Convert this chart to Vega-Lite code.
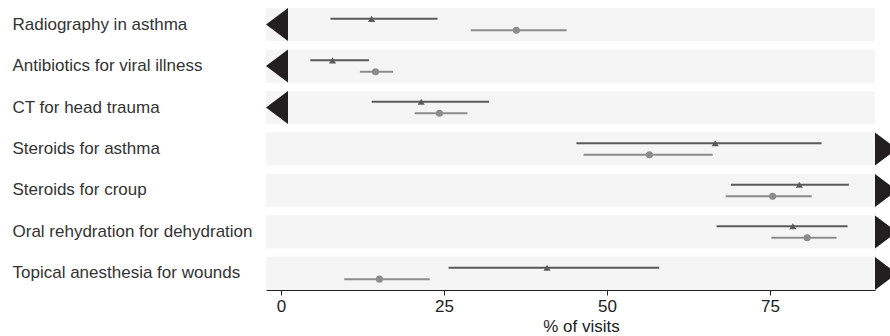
{
  "$schema": "https://vega.github.io/schema/vega-lite/v6.json",
  "width": 609,
  "height": 282,
  "padding": {"left": 12, "top": 8, "right": 0, "bottom": 0},
  "autosize": {"type": "pad"},
  "background": "white",
  "config": {
    "view": {"stroke": null},
    "font": "Liberation Sans"
  },
  "data": {
    "values": [
      {"item": "Radiography in asthma", "series": "A", "est": 13.9, "lo": 7.6, "hi": 24.0, "dir": "lower"},
      {"item": "Radiography in asthma", "series": "B", "est": 36.1, "lo": 29.1, "hi": 43.8, "dir": "lower"},
      {"item": "Antibiotics for viral illness", "series": "A", "est": 7.9, "lo": 4.5, "hi": 13.5, "dir": "lower"},
      {"item": "Antibiotics for viral illness", "series": "B", "est": 14.5, "lo": 12.1, "hi": 17.2, "dir": "lower"},
      {"item": "CT for head trauma", "series": "A", "est": 21.5, "lo": 13.9, "hi": 31.9, "dir": "lower"},
      {"item": "CT for head trauma", "series": "B", "est": 24.3, "lo": 20.5, "hi": 28.6, "dir": "lower"},
      {"item": "Steroids for asthma", "series": "A", "est": 66.6, "lo": 45.3, "hi": 82.9, "dir": "higher"},
      {"item": "Steroids for asthma", "series": "B", "est": 56.5, "lo": 46.4, "hi": 66.2, "dir": "higher"},
      {"item": "Steroids for croup", "series": "A", "est": 79.5, "lo": 69.0, "hi": 87.1, "dir": "higher"},
      {"item": "Steroids for croup", "series": "B", "est": 75.4, "lo": 68.2, "hi": 81.4, "dir": "higher"},
      {"item": "Oral rehydration for dehydration", "series": "A", "est": 78.5, "lo": 66.8, "hi": 86.9, "dir": "higher"},
      {"item": "Oral rehydration for dehydration", "series": "B", "est": 80.7, "lo": 75.2, "hi": 85.2, "dir": "higher"},
      {"item": "Topical anesthesia for wounds", "series": "A", "est": 40.8, "lo": 25.7, "hi": 58.0, "dir": "higher"},
      {"item": "Topical anesthesia for wounds", "series": "B", "est": 15.1, "lo": 9.7, "hi": 22.8, "dir": "higher"}
    ]
  },
  "encoding": {
    "y": {
      "field": "item",
      "type": "nominal",
      "sort": null,
      "scale": {
        "domain": ["Radiography in asthma", "Antibiotics for viral illness", "CT for head trauma", "Steroids for asthma", "Steroids for croup", "Oral rehydration for dehydration", "Topical anesthesia for wounds"],
        "paddingInner": 0.2,
        "paddingOuter": 0
      },
      "axis": {
        "title": null,
        "ticks": false,
        "tickSize": 0,
        "domain": false,
        "labelAlign": "left",
        "labelPadding": 254,
        "labelFontSize": 17,
        "labelColor": "#333333",
        "labelLimit": 300
      }
    }
  },
  "layer": [
    {
      "transform": [{"filter": "datum.series == 'A'"}],
      "mark": {"type": "rect", "fill": "#f5f5f5"},
      "encoding": {
        "x": {"datum": -2.3, "type": "quantitative", "scale": {"domain": [-2.3, 91.1], "nice": false, "zero": false}},
        "x2": {"datum": 91.1}
      }
    },
    {
      "mark": {"type": "rule", "strokeWidth": 2},
      "encoding": {
        "x": {
          "field": "lo",
          "type": "quantitative",
          "scale": {"domain": [-2.3, 91.1], "nice": false, "zero": false},
          "axis": {
            "title": "% of visits",
            "values": [0, 25, 50, 75],
            "grid": false,
            "domainColor": "#222222",
            "tickColor": "#222222",
            "tickSize": 5,
            "labelPadding": 3,
            "labelFontSize": 17,
            "labelColor": "#222222",
            "titleFontSize": 17,
            "titleFontWeight": "normal",
            "titleColor": "#222222",
            "titlePadding": 4,
            "titleX": 315
          }
        },
        "x2": {"field": "hi"},
        "yOffset": {"field": "series", "type": "nominal", "scale": {"domain": ["A", "B"], "paddingInner": 0, "paddingOuter": 0.45}},
        "color": {"field": "series", "type": "nominal", "scale": {"domain": ["A", "B"], "range": ["#5a5a5a", "#8c8c8c"]}, "legend": null}
      }
    },
    {
      "mark": {"type": "point", "filled": true, "opacity": 1, "size": 50},
      "encoding": {
        "x": {"field": "est", "type": "quantitative"},
        "yOffset": {"field": "series", "type": "nominal"},
        "color": {"field": "series", "type": "nominal", "legend": null},
        "shape": {"field": "series", "type": "nominal", "scale": {"domain": ["A", "B"], "range": ["triangle-up", "circle"]}, "legend": null}
      }
    },
    {
      "transform": [{"filter": "datum.series == 'A' && datum.dir == 'lower'"}],
      "mark": {"type": "point", "filled": true, "opacity": 1, "size": 1089, "shape": "M0,0L1.333,-1L1.333,1Z", "color": "#231f20", "strokeWidth": 0},
      "encoding": {
        "x": {"datum": -2.3, "type": "quantitative"}
      }
    },
    {
      "transform": [{"filter": "datum.series == 'A' && datum.dir == 'higher'"}],
      "mark": {"type": "point", "filled": true, "opacity": 1, "size": 1089, "shape": "M0,-1L0,1L1.333,0Z", "color": "#231f20", "strokeWidth": 0},
      "encoding": {
        "x": {"datum": 91.1, "type": "quantitative"}
      }
    }
  ]
}
